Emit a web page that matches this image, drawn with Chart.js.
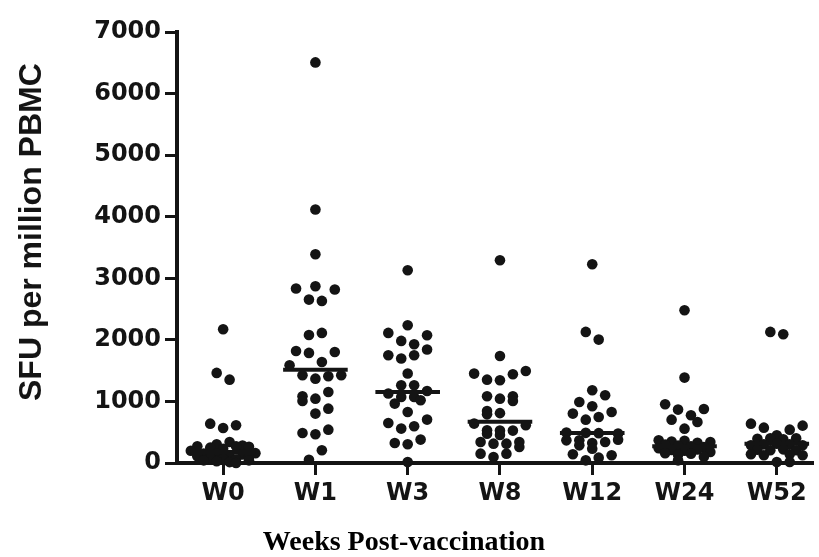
<!DOCTYPE html>
<html><head><meta charset="utf-8">
<script src="https://cdn.jsdelivr.net/npm/chart.js@4.4.0/dist/chart.umd.min.js"></script>
<style>html,body{margin:0;padding:0;background:#fff;}#wrap{width:819px;height:557px;}</style>
</head><body><div id="wrap"><canvas id="c" width="819" height="557"></canvas></div>
<script>
const categories = ['W0','W1','W3','W8','W12','W24','W52'];
const yTickValues = [0,1000,2000,3000,4000,5000,6000,7000];
const xTitle = 'Weeks Post-vaccination';
const yTitle = 'SFU per million PBMC';
const medians = [180,1515,1154,670,488,271,314];

const w0Values = [2172,1463,1354,639,569,612,341,303,285,271,271,265,249,230,200,160,152,152,140,125,110,98,90,70,60,43,43,30,15,0];
const w0Offsets = [0,-0.07,0.07,-0.14,0,0.14,0.07,-0.07,0.21,-0.28,0.14,0.28,-0.14,0,-0.35,0.35,-0.21,-0.07,0.21,0.07,-0.28,0.28,-0.14,0,0.14,-0.21,0.28,-0.07,0.07,0.14];

const w1Values = [6506,4117,3391,2833,2871,2817,2654,2633,2080,2113,1820,1788,1804,1641,1587,1425,1370,1408,1425,1154,1083,1008,1045,883,802,488,466,542,206,54];
const w1Offsets = [0,0,0,-0.21,0,0.21,-0.07,0.07,-0.07,0.07,-0.21,-0.07,0.21,0.07,-0.28,-0.14,0,0.14,0.28,0.14,-0.14,-0.14,0,0.14,0,-0.14,0,0.14,0.07,-0.07];

const w3Values = [3131,2238,2113,2075,1983,1929,1843,1750,1696,1750,1453,1263,1263,1128,1073,1073,1170,1019,965,829,705,650,559,596,380,325,304,16];
const w3Offsets = [0,0,-0.21,0.21,-0.07,0.07,0.21,-0.21,-0.07,0.07,0,-0.07,0.07,-0.21,-0.07,0.07,0.21,0.14,-0.14,0,0.21,-0.21,-0.07,0.07,0.14,-0.14,0,0];

const w8Values = [3293,1739,1452,1354,1343,1441,1495,1083,1045,1083,1008,845,790,810,640,612,531,477,526,455,526,341,314,314,341,260,152,98,152];
const w8Offsets = [0,0,-0.28,-0.14,0,0.14,0.28,-0.14,0,0.14,0.14,-0.14,-0.14,0,-0.28,0.28,-0.14,-0.14,0,0,0.14,-0.21,-0.07,0.07,0.21,0.21,-0.21,-0.07,0.07];

const w12Values = [3228,2129,2004,1181,1100,991,921,802,829,704,748,495,490,485,480,368,368,287,325,233,341,379,141,43,87,125];
const w12Offsets = [0,-0.07,0.07,0,0.14,-0.14,0,-0.21,0.21,-0.07,0.07,-0.28,-0.07,0.07,0.28,-0.28,-0.14,-0.14,0,0,0.14,0.28,-0.21,-0.07,0.07,0.21];

const w24Values = [2481,1387,953,867,775,878,704,666,558,370,350,360,330,340,300,285,270,260,240,210,200,220,180,160,140,150,100,43];
const w24Offsets = [0,0,-0.21,-0.07,0.07,0.21,-0.14,0.14,0,-0.28,-0.14,0,0.14,0.28,-0.21,-0.07,0.07,0.21,-0.28,-0.14,0,0.14,0.28,-0.21,-0.07,0.07,0.21,-0.07];

const w52Values = [2129,2091,639,574,542,607,450,395,400,385,400,287,303,314,303,287,217,206,222,206,141,125,141,125,16,16];
const w52Offsets = [-0.07,0.07,-0.28,-0.14,0.14,0.28,0,-0.21,-0.07,0.07,0.21,-0.28,-0.14,0,0.14,0.28,-0.21,-0.07,0.07,0.21,-0.28,-0.14,0.14,0.28,0,0.14];

const groupValues = [w0Values,w1Values,w3Values,w8Values,w12Values,w24Values,w52Values];
const groupOffsets = [w0Offsets,w1Offsets,w3Offsets,w8Offsets,w12Offsets,w24Offsets,w52Offsets];

const INK = '#141414';
const datasets = [];
groupValues.forEach((vals, i) => {
  datasets.push({
    type: 'scatter',
    data: vals.map((v, k) => ({x: i + groupOffsets[i][k], y: v})),
    pointRadius: 5.3, pointHoverRadius: 5.3,
    backgroundColor: INK, borderWidth: 0, clip: false, order: 2
  });
});
medians.forEach((m, i) => {
  datasets.push({
    type: 'line',
    data: [{x: i - 0.35, y: m}, {x: i + 0.35, y: m}],
    borderColor: INK, borderWidth: 4, pointRadius: 0, clip: false, order: 1
  });
});

const axisTitles = {
  id: 'axisTitles',
  afterDraw(chart) {
    const ctx = chart.ctx;
    const xs = chart.scales.x;
    const ys = chart.scales.y;
    ctx.save();
    ctx.fillStyle = '#000';
    ctx.textAlign = 'center';
    ctx.textBaseline = 'alphabetic';
    ctx.font = 'bold 28px "Liberation Serif", "Times New Roman", serif';
    ctx.fillText(xTitle, xs.getPixelForValue(1.96), 550);
    ctx.restore();
    ctx.save();
    ctx.fillStyle = INK;
    ctx.textAlign = 'center';
    ctx.textBaseline = 'alphabetic';
    ctx.translate(41, ys.getPixelForValue(3750));
    ctx.rotate(-Math.PI / 2);
    ctx.font = 'bold 32px "Liberation Sans", Arial, sans-serif';
    ctx.fillText(yTitle, 0, 0);
    ctx.restore();
  }
};

const tickFont = {family: 'DejaVu Sans, sans-serif', size: 24, weight: 'bold'};
new Chart(document.getElementById('c'), {
  type: 'scatter',
  data: {datasets},
  plugins: [axisTitles],
  options: {
    responsive: false, animation: false, devicePixelRatio: 1,
    layout: {padding: {top: 32, right: 1, left: 0, bottom: 0}},
    plugins: {legend: {display: false}, tooltip: {enabled: false}},
    scales: {
      x: {
        type: 'linear', min: -0.5, max: 6.4,
        afterBuildTicks: s => { s.ticks = categories.map((c, i) => ({value: i})); },
        afterFit: s => { s.height = 94; },
        ticks: {callback: v => categories[v], font: tickFont, color: INK, padding: 4, autoSkip: false, maxRotation: 0},
        grid: {display: true, drawOnChartArea: false, drawTicks: true, tickLength: 12, tickWidth: 3, tickColor: INK},
        border: {display: true, color: INK, width: 4},
        title: {display: false}
      },
      y: {
        type: 'linear', min: 0, max: 7000,
        afterBuildTicks: s => { s.ticks = yTickValues.map(v => ({value: v})); },
        afterFit: s => { s.width = 177; },
        ticks: {font: tickFont, color: INK, padding: 4, callback: v => String(v)},
        grid: {display: true, drawOnChartArea: false, drawTicks: true, tickLength: 12, tickWidth: 3, tickColor: INK},
        border: {display: true, color: INK, width: 4},
        title: {display: false}
      }
    }
  }
});
</script></body></html>
